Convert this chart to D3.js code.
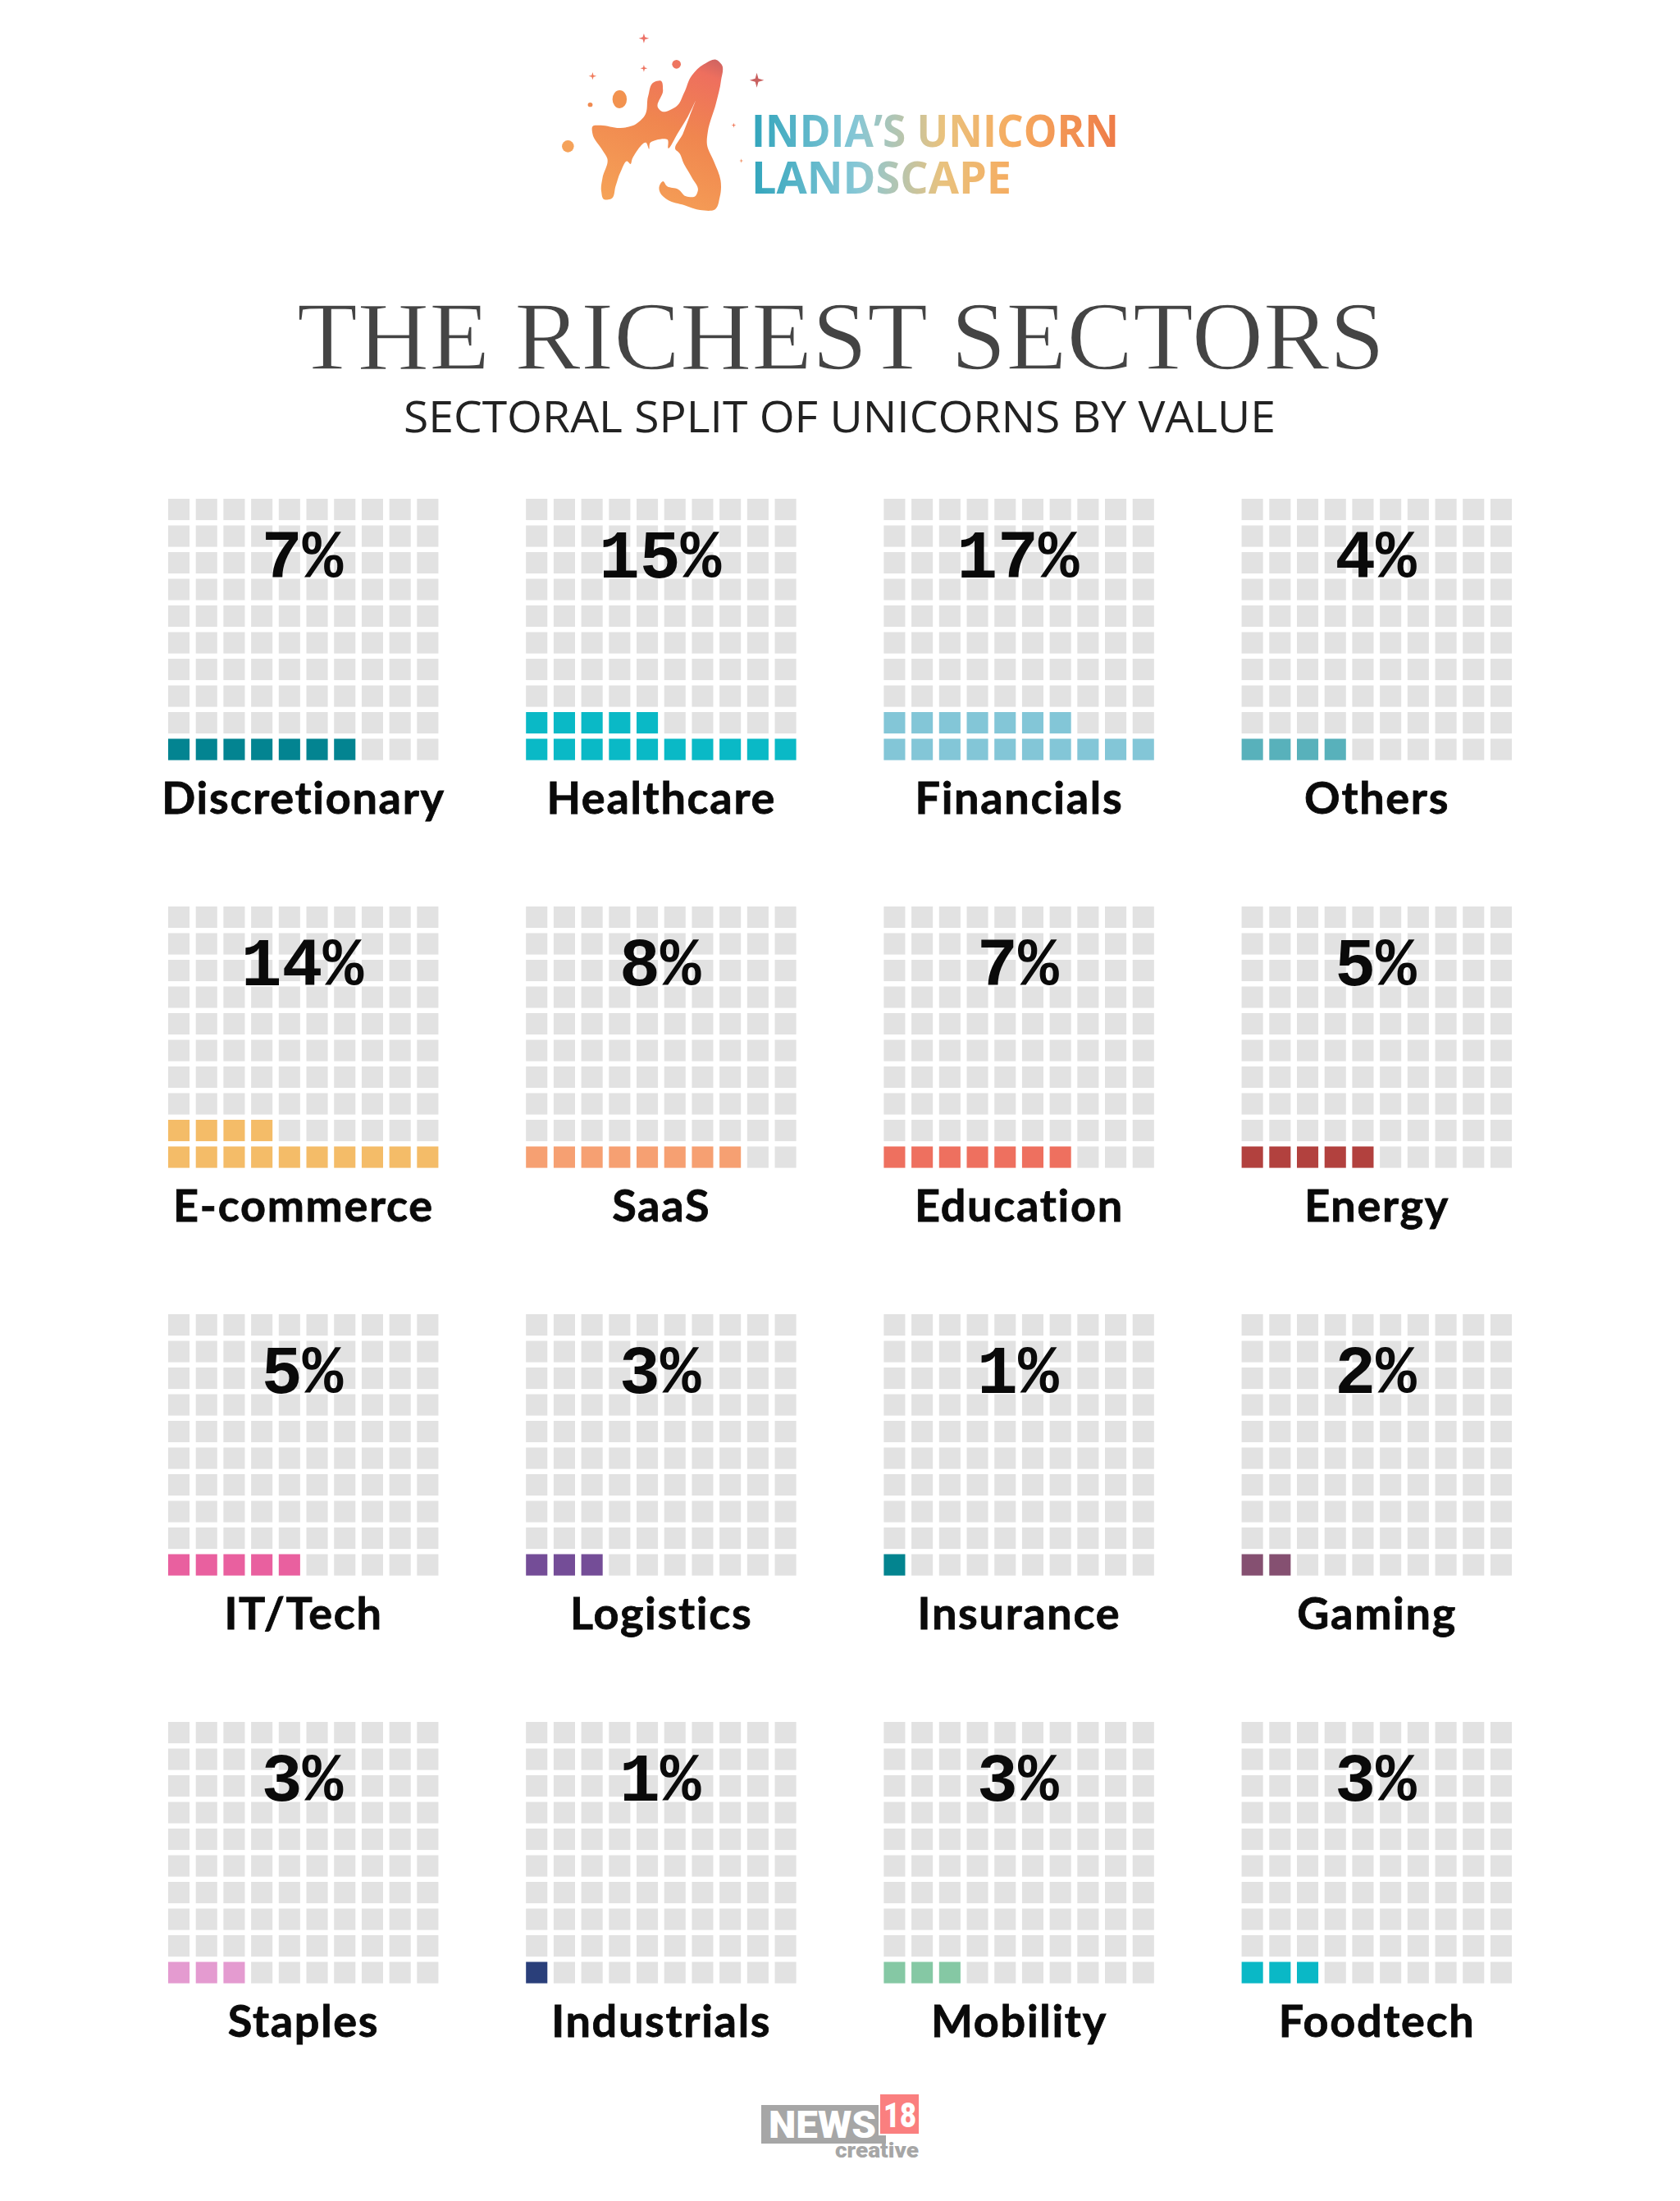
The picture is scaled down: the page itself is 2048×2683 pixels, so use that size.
<!DOCTYPE html>
<html><head><meta charset="utf-8">
<script src="https://cdn.jsdelivr.net/npm/d3@7"></script>
<style>html,body{margin:0;padding:0;background:#fff}svg{display:block}</style>
</head><body><svg id="c" width="2048" height="2683"></svg>
<script>
const sectors = ["Discretionary","Healthcare","Financials","Others","E-commerce","SaaS","Education","Energy","IT/Tech","Logistics","Insurance","Gaming","Staples","Industrials","Mobility","Foodtech"];
const shares = [7,15,17,4,14,8,7,5,5,3,1,2,3,1,3,3];
const colours = ["#038491","#0ab9c6","#83c6d7","#58b1bb","#f4bc68","#f6a072","#ee705f","#b2413e","#e9609f","#744d97","#03848f","#855071","#e49bd0","#2a3f7a","#85c8a4","#0ab8c6"];
const gridCols = d3.range(4), gridRows = d3.range(4), cells = d3.range(100);

const svg = d3.select("#c");
const defs = svg.append("defs");
function grad(id, attrs, stops){
  const g = defs.append("linearGradient").attr("id",id).attr("gradientUnits","userSpaceOnUse");
  Object.entries(attrs).forEach(([k,v])=>g.attr(k,v));
  stops.forEach(([o,c])=>g.append("stop").attr("offset",o).attr("stop-color",c));
}
grad("txt",{x1:921,x2:1359,y1:0,y2:0},[[0,"#35a6bd"],[.28,"#86c7d6"],[.4,"#b5c5b0"],[.52,"#e9c27e"],[.72,"#f6ab5f"],[1,"#ee7c48"]]);
grad("blob",{x1:190,y1:680,x2:500,y2:170},[[0,"#f6a458"],[.55,"#f0864f"],[.9,"#ee6f5e"],[1,"#cf6461"]]);

// Logo (drawn in the crop's coordinate space)
const logo = svg.append("g").attr("transform","translate(640,20) scale(0.4847,0.3333)");
const blobPts = [[480,158],[494,175],[493,235],[480,320],[460,420],[458,470],[475,530],[492,600],[490,660],[475,708],[440,708],[400,690],[360,672],[340,645],[338,620],[347,603],[358,622],[385,632],[405,658],[425,660],[435,635],[420,590],[400,540],[385,495],[380,490],[397,430],[414,365],[430,305],[430,305],[410,365],[385,425],[360,482],[358,450],[315,462],[312,485],[305,462],[270,520],[265,540],[258,530],[240,570],[228,620],[215,668],[200,670],[192,640],[195,590],[207,520],[195,490],[170,430],[172,400],[190,398],[240,408],[270,400],[300,365],[310,290],[325,240],[340,235],[347,270],[335,335],[345,348],[380,330],[400,280],[420,215],[450,175]];
logo.append("path").attr("d",d3.line().curve(d3.curveCatmullRomClosed.alpha(.9))(blobPts)).attr("fill","url(#blob)");
[[108,475,15,22,"#f5a25a"],[238,303,18,33,"#f2924f"],[381,175,11,16,"#ee7560"],[164,323,6,8,"#f08a50"]].forEach(([x,y,rx,ry,c])=>
  logo.append("ellipse").attr("cx",x).attr("cy",y).attr("rx",rx).attr("ry",ry).attr("fill",c));
function sparkle(x,y,rx,ry,c){
  const w=rx*.22,h=ry*.22;
  logo.append("path").attr("fill",c).attr("d",`M${x},${y-ry}L${x+w},${y-h}L${x+rx},${y}L${x+w},${y+h}L${x},${y+ry}L${x-w},${y+h}L${x-rx},${y}L${x-w},${y-h}Z`);
}
[[299,80,13,18,"#ec7166"],[299,190,9,13,"#ee7360"],[170,218,10,14,"#f07a5a"],[583,233,18,27,"#c9605f"],[525,398,6,9,"#f07a5a"],[544,528,5,8,"#f08a5a"]].forEach(s=>sparkle(...s));

svg.selectAll("text.lg").data([["INDIA\u2019S UNICORN",916,179,448],["LANDSCAPE",916,236,317]]).join("text").attr("class","lg")
  .attr("x",d=>d[1]).attr("y",d=>d[2]).attr("textLength",d=>d[3]).attr("lengthAdjust","spacingAndGlyphs")
  .attr("font-family","'Open Sans',sans-serif").attr("font-weight",700).attr("font-size",53)
  .attr("fill","url(#txt)").text(d=>d[0]);

// Titles
svg.append("text").attr("x",362).attr("y",450).attr("textLength",1326).attr("lengthAdjust","spacingAndGlyphs")
  .attr("font-family","'Liberation Serif',serif").attr("font-size",118).attr("fill","#444")
  .attr("stroke","#fff").attr("stroke-width",1.4).text("THE RICHEST SECTORS");
svg.append("text").attr("x",492).attr("y",527).attr("textLength",1063).attr("lengthAdjust","spacingAndGlyphs")
  .attr("font-family","'Open Sans',sans-serif").attr("font-weight",400).attr("font-size",53).attr("fill","#222").text("SECTORAL SPLIT OF UNICORNS BY VALUE");

// Waffle panels
const panelX = d3.scalePoint().domain(gridCols).range([205,1513.6]);
const panelY = d3.scalePoint().domain(gridRows).range([608,2099]);
const cx = d3.scaleBand().domain(d3.range(10)).range([0,329.4]).paddingInner(.226);
const cy = d3.scaleBand().domain(d3.range(10)).range([0,318.6]).paddingInner(.1975);

const panels = svg.selectAll("g.p").data(sectors.map((name,i)=>({name,share:shares[i],colour:colours[i],i})))
  .join("g").attr("class","p")
  .attr("transform",d=>`translate(${panelX(d.i%4)},${panelY(Math.floor(d.i/4))})`);
panels.selectAll("rect").data(d=>cells.map(k=>({k,d}))).join("rect")
  .attr("x",c=>cx(c.k%10)).attr("y",c=>cy(9-Math.floor(c.k/10)))
  .attr("width",cx.bandwidth()).attr("height",cy.bandwidth())
  .attr("fill",c=>c.k<c.d.share?c.d.colour:"#e2e2e2");
panels.append("text").attr("x",163.5).attr("y",96).attr("text-anchor","middle")
  .attr("font-family","'Liberation Mono',monospace").attr("font-weight",700).attr("font-size",83).attr("fill","#0a0a0a")
  .text(d=>d.share+"%");
panels.append("text").attr("x",165).attr("y",384).attr("text-anchor","middle")
  .attr("font-family","Lato,sans-serif").attr("font-weight",700).attr("font-size",54).attr("letter-spacing",1.7)
  .attr("stroke","#0a0a0a").attr("stroke-width",.8).attr("fill","#0a0a0a")
  .text(d=>d.name);

// Footer
const f = svg.append("g");
f.append("rect").attr("x",928).attr("y",2566).attr("width",152).attr("height",47).attr("fill","#a6a6a6");
f.append("rect").attr("x",1072).attr("y",2552).attr("width",49).attr("height",50).attr("fill","#fa7f7f").attr("stroke","#fff").attr("stroke-width",2);
f.append("text").attr("x",937).attr("y",2606).attr("textLength",131).attr("lengthAdjust","spacingAndGlyphs")
  .attr("font-family","Roboto,sans-serif").attr("font-weight",900).attr("font-size",46).attr("fill","#fff").text("NEWS");
f.append("text").attr("x",1077).attr("y",2593).attr("textLength",40).attr("lengthAdjust","spacingAndGlyphs")
  .attr("font-family","Roboto,sans-serif").attr("font-weight",900).attr("font-size",43).attr("fill","#fff").text("18");
f.append("text").attr("x",1018).attr("y",2630).attr("textLength",102).attr("lengthAdjust","spacingAndGlyphs")
  .attr("font-family","Roboto,sans-serif").attr("font-weight",900).attr("font-size",25).attr("fill","#a6a6a6").text("creative");
</script></body></html>
